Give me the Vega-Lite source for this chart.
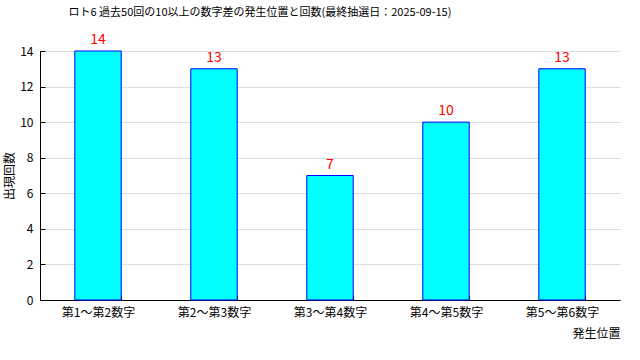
{
  "$schema": "https://vega.github.io/schema/vega-lite/v6.json",
  "width": 580,
  "height": 249,
  "autosize": {"type": "none"},
  "padding": {"left": 40, "top": 51, "right": 20, "bottom": 60},
  "background": "white",
  "title": {
    "text": "ロト6 過去50回の10以上の数字差の発生位置と回数(最終抽選日：2025-09-15)",
    "anchor": "middle",
    "frame": "group",
    "dx": -70,
    "offset": 15,
    "font": "Noto Sans CJK JP",
    "fontSize": 11,
    "fontWeight": "normal",
    "color": "black"
  },
  "config": {
    "view": {"stroke": null},
    "font": "Noto Sans CJK JP",
    "axis": {
      "labelFont": "Noto Sans CJK JP",
      "titleFont": "Noto Sans CJK JP",
      "labelFontSize": 12,
      "titleFontSize": 12,
      "titleFontWeight": "normal",
      "labelColor": "black",
      "titleColor": "black",
      "domainColor": "black",
      "tickColor": "black",
      "gridColor": "#dddddd"
    }
  },
  "data": {
    "values": [
      {"position": "第1～第2数字", "count": 14},
      {"position": "第2～第3数字", "count": 13},
      {"position": "第3～第4数字", "count": 7},
      {"position": "第4～第5数字", "count": 10},
      {"position": "第5～第6数字", "count": 13}
    ]
  },
  "encoding": {
    "x": {
      "field": "position",
      "type": "nominal",
      "sort": null,
      "scale": {"paddingInner": 0.6, "paddingOuter": 0.3},
      "axis": {
        "title": "発生位置",
        "titleAnchor": "end",
        "titleAlign": "right",
        "titlePadding": 10,
        "labelAngle": 0,
        "tickBand": "extent",
        "tickSize": -5,
        "labelPadding": 12,
        "grid": false
      }
    },
    "y": {
      "field": "count",
      "type": "quantitative",
      "scale": {"domain": [0, 14]},
      "axis": {
        "title": "出現回数",
        "values": [0, 2, 4, 6, 8, 10, 12, 14],
        "tickSize": -5,
        "labelPadding": 12,
        "titlePadding": 3,
        "grid": true
      }
    }
  },
  "layer": [
    {
      "mark": {"type": "bar", "fill": "#00ffff", "stroke": "#0000ff", "strokeWidth": 1}
    },
    {
      "mark": {"type": "text", "color": "#ff0000", "fontSize": 14, "baseline": "bottom", "dy": -4, "font": "Noto Sans CJK JP"},
      "encoding": {"text": {"field": "count", "type": "quantitative"}}
    }
  ]
}
